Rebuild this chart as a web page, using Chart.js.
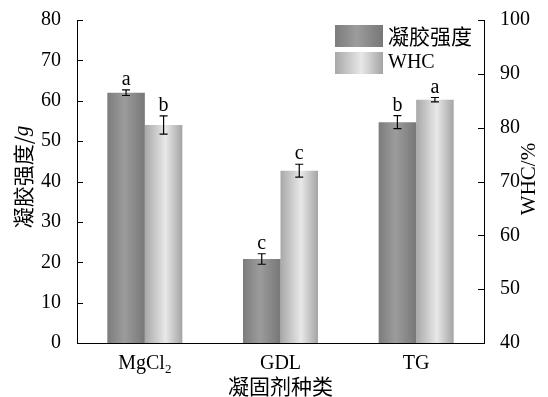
<!DOCTYPE html>
<html>
<head>
<meta charset="utf-8">
<script src="https://cdn.jsdelivr.net/npm/chart.js@4/dist/chart.umd.min.js"></script>
<style>
  html, body { margin: 0; padding: 0; background: #fff; }
  #wrap { width: 548px; height: 397px; }
</style>
</head>
<body>
<div id="wrap"><canvas id="grafica"></canvas></div>
<script>
const categories = ['MgCl', 'GDL', 'TG'];
const subscripts = ['2', '', ''];
const gelStrength = [62.0, 20.8, 54.7];     // g, left axis
const gelError = [0.7, 1.3, 1.6];
const gelLetters = ['a', 'c', 'b'];
const whc = [80.5, 72.0, 85.2];             // %, right axis
const whcError = [1.7, 1.2, 0.4];
const whcLetters = ['b', 'c', 'a'];
const leftTicks = [0, 10, 20, 30, 40, 50, 60, 70, 80];
const rightTicks = [40, 50, 60, 70, 80, 90, 100];

const serif = '"Liberation Serif", "Times New Roman", serif';
const cjk = '"Noto Sans CJK SC", sans-serif';
const barPct = 0.553;

// colores del degradado (oscuro = gel, claro = WHC)
const darkStops = [[0, '#7c7c7c'], [0.45, '#9c9c9c'], [1, '#777777']];
const lightStops = [[0, '#a8a8a8'], [0.55, '#e8e8e8'], [1, '#a4a4a4']];

function makeGradient(ctx, x0, x1, stops) {
  const g = ctx.createLinearGradient(x0, 0, x1, 0);
  stops.forEach(s => g.addColorStop(s[0], s[1]));
  return g;
}

function barFill(stops, side) {
  return function (c) {
    const chart = c.chart;
    const area = chart.chartArea;
    const xs = chart.scales.x;
    if (!area || !xs || c.dataIndex === undefined) return stops[1][1];
    const cw = area.width / categories.length;
    const bw = cw * barPct / 2;
    const cx = xs.getPixelForValue(c.dataIndex);
    const x0 = side === 0 ? cx - bw : cx;
    return makeGradient(chart.ctx, x0, x0 + bw, stops);
  };
}

const extras = {
  id: 'extras',
  afterDatasetsDraw(chart) {
    const ctx = chart.ctx;
    const area = chart.chartArea;
    const xs = chart.scales.x, yl = chart.scales.y, yr = chart.scales.y1;
    const cw = area.width / categories.length;
    const bw = cw * barPct / 2;
    ctx.save();
    ctx.strokeStyle = '#000';
    ctx.fillStyle = '#000';
    ctx.lineWidth = 1.2;
    ctx.font = '20px ' + serif;
    ctx.textAlign = 'center';
    ctx.textBaseline = 'alphabetic';
    const series = [
      [gelStrength, gelError, gelLetters, yl, -1],
      [whc, whcError, whcLetters, yr, 1]
    ];
    series.forEach(s => {
      s[0].forEach((v, i) => {
        const x = xs.getPixelForValue(i) + s[4] * bw / 2;
        const top = s[3].getPixelForValue(v + s[1][i]);
        const bot = s[3].getPixelForValue(v - s[1][i]);
        ctx.beginPath();
        ctx.moveTo(x, top); ctx.lineTo(x, bot);
        ctx.moveTo(x - 4, top); ctx.lineTo(x + 4, top);
        ctx.moveTo(x - 4, bot); ctx.lineTo(x + 4, bot);
        ctx.stroke();
        ctx.fillText(s[2][i], x, top - 5);
      });
    });

    // marcas hacia dentro
    ctx.lineWidth = 1;
    ctx.beginPath();
    leftTicks.forEach(t => {
      const y = Math.round(yl.getPixelForValue(t)) + 0.5;
      ctx.moveTo(area.left, y); ctx.lineTo(area.left + 6, y);
    });
    rightTicks.forEach(t => {
      const y = Math.round(yr.getPixelForValue(t)) + 0.5;
      ctx.moveTo(area.right, y); ctx.lineTo(area.right - 6, y);
    });
    ctx.stroke();

    // etiquetas del eje x con subíndice
    categories.forEach((c, i) => {
      const x = xs.getPixelForValue(i);
      ctx.font = '20px ' + serif;
      const w1 = ctx.measureText(c).width;
      ctx.font = '13px ' + serif;
      const w2 = subscripts[i] ? ctx.measureText(subscripts[i]).width : 0;
      const x0 = x - (w1 + w2) / 2;
      ctx.textAlign = 'left';
      ctx.font = '20px ' + serif;
      ctx.fillText(c, x0, 369);
      if (subscripts[i]) {
        ctx.font = '13px ' + serif;
        ctx.fillText(subscripts[i], x0 + w1, 373);
      }
    });

    // títulos
    ctx.textAlign = 'center';
    ctx.font = '21px ' + cjk;
    ctx.textBaseline = 'middle';
    ctx.fillText('凝固剂种类', (area.left + area.right) / 2, 386);

    ctx.save();
    ctx.translate(23, 177);
    ctx.rotate(-Math.PI / 2);
    ctx.font = '21px ' + cjk;
    const t1 = '凝胶强度/';
    const wa = ctx.measureText(t1).width;
    ctx.font = 'italic 21px ' + serif;
    const wb = ctx.measureText('g').width;
    ctx.textAlign = 'left';
    ctx.font = '21px ' + cjk;
    ctx.fillText(t1, -(wa + wb) / 2, 0);
    ctx.font = 'italic 21px ' + serif;
    ctx.fillText('g', -(wa + wb) / 2 + wa, -1);
    ctx.restore();

    ctx.save();
    ctx.translate(529, 179);
    ctx.rotate(-Math.PI / 2);
    ctx.textAlign = 'center';
    ctx.font = '21px ' + serif;
    ctx.fillText('WHC/%', 0, 0);
    ctx.restore();

    // leyenda
    const items = [['凝胶强度', darkStops, 25], ['WHC', lightStops, 52]];
    items.forEach(it => {
      ctx.fillStyle = makeGradient(ctx, 335, 383, it[1]);
      ctx.fillRect(335, it[2], 48, 22);
      ctx.fillStyle = '#000';
      ctx.textAlign = 'left';
      ctx.textBaseline = 'middle';
      ctx.font = (it[0] === 'WHC' ? '20px ' + serif : '21px ' + cjk);
      ctx.fillText(it[0], 388, it[2] + 11);
    });
    ctx.restore();
  }
};

const ctx = document.getElementById('grafica').getContext('2d');

new Chart(ctx, {
  type: 'bar',
  data: {
    labels: categories,
    datasets: [
      {
        label: '凝胶强度',
        data: gelStrength,
        yAxisID: 'y',
        backgroundColor: barFill(darkStops, 0),
        categoryPercentage: barPct,
        barPercentage: 1,
      },
      {
        label: 'WHC',
        data: whc,
        yAxisID: 'y1',
        backgroundColor: barFill(lightStops, 1),
        categoryPercentage: barPct,
        barPercentage: 1,
      },
    ],
  },
  options: {
    responsive: true,
    maintainAspectRatio: false,
    animation: false,
    layout: { padding: { top: 20, right: 0, bottom: 0, left: 0 } },
    plugins: {
      legend: { display: false },
      tooltip: { enabled: false },
    },
    scales: {
      x: {
        grid: { display: false },
        border: { display: true, color: '#000', width: 1 },
        ticks: { display: false },
        afterFit: s => { s.height = 54; },
      },
      y: {
        position: 'left',
        min: 0,
        max: 80,
        afterBuildTicks: s => { s.ticks = leftTicks.map(v => ({ value: v })); },
        grid: { display: false },
        border: { display: true, color: '#000', width: 1 },
        ticks: {
          color: '#000',
          padding: 8,
          font: { family: serif, size: 20 },
        },
        afterFit: s => { s.width = 77; },
      },
      y1: {
        position: 'right',
        min: 40,
        max: 100,
        afterBuildTicks: s => { s.ticks = rightTicks.map(v => ({ value: v })); },
        grid: { display: false },
        border: { display: true, color: '#000', width: 1 },
        ticks: {
          color: '#000',
          padding: 8,
          font: { family: serif, size: 20 },
        },
        afterFit: s => { s.width = 64; },
      },
    },
  },
  plugins: [extras],
});
</script>
</body>
</html>
